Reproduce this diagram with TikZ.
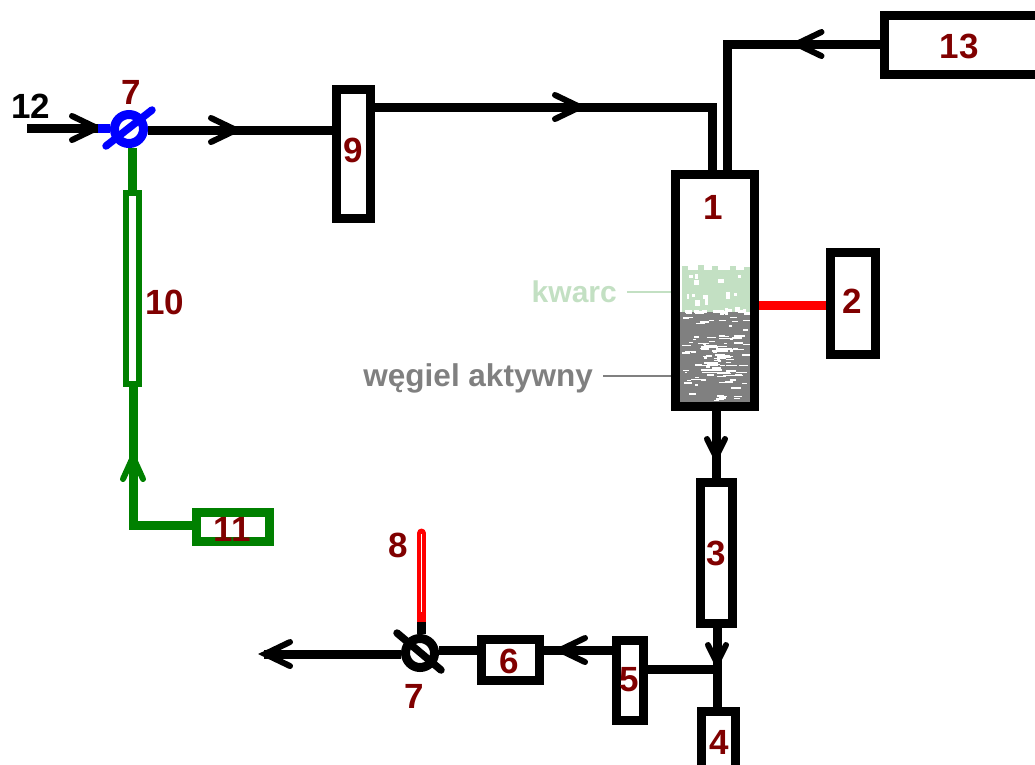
\documentclass[tikz,border=0pt]{standalone}
\usepackage{fontspec}
\setmainfont{Liberation Sans}
\usetikzlibrary{decorations.markings}
\definecolor{numred}{RGB}{128,0,0}
\definecolor{pgreen}{RGB}{0,128,0}
\definecolor{kwarcg}{RGB}{195,224,195}
\definecolor{coalg}{RGB}{128,128,128}
\tikzset{
  x=1pt,y=-1pt,
  box/.style={draw=black,line width=9pt,fill=none,inner sep=0pt},
  gbox/.style={box,draw=pgreen},
  pipe/.style={draw=black,line width=9pt,line join=miter},
  gpipe/.style={pipe,draw=pgreen},
  chev/.style={postaction={decorate},decoration={markings,mark=at position #1 with {\draw[line width=6pt,draw=black,line cap=round,line join=miter] (-25,-12)--(0,0)--(-25,12);}}},
  vchev/.style={postaction={decorate},decoration={markings,mark=at position #1 with {\draw[line width=6pt,draw=black,line cap=round,line join=miter] (-18,-9)--(0,0)--(-18,9);}}},
  gchev/.style={postaction={decorate},decoration={markings,mark=at position #1 with {\draw[line width=6pt,draw=pgreen,line cap=round,line join=miter] (-22,-10)--(0,0)--(-22,10);}}},
  num/.style={font=\fontsize{35}{35}\selectfont\bfseries,text=numred,inner sep=0pt},
  blk/.style={num,text=black},
  side/.style={font=\fontsize{31.5}{31.5}\selectfont\bfseries,inner sep=0pt},
  leader/.style={line width=2pt,shorten <=10pt},
  valvering/.style={circle,line width=9pt,minimum size=29pt,inner sep=0pt,fill=none},
}
\begin{document}
\begin{tikzpicture}
\useasboundingbox (0,0) rectangle (1035,764);
% packing of column 1
\fill[kwarcg] (682,270) rectangle (750,316);
\fill[coalg] (680,312) rectangle (750,404);
\begin{scope}
\pgfmathsetseed{11}
% jagged top of the quartz layer
\foreach \x/\t in {682/266,690/272,698/265,706/271,712/266,722/274,730/266,738/272,744/267}{
  \fill[kwarcg] (\x,\t) rectangle ++(6,8);
}
\foreach \i in {1,...,14}{
  \pgfmathsetmacro\rx{684+62*rnd}\pgfmathsetmacro\ry{272+38*rnd}
  \pgfmathsetmacro\rw{1.5+5*rnd}\pgfmathsetmacro\rh{2+7*rnd}
  \fill[white] (\rx,\ry) rectangle ++(\rw,\rh);
}
\foreach \i in {1,...,18}{
  \pgfmathsetmacro\rx{684+62*rnd}
  \fill[white] (\rx,309+3*rnd) rectangle ++(3+4*rnd,3);
}
\foreach \i in {1,...,70}{
  \pgfmathsetmacro\rx{682+62*rnd}\pgfmathsetmacro\ry{316+86*rnd}
  \pgfmathsetmacro\rw{2+11*rnd}
  \fill[white] (\rx,\ry) rectangle ++(\rw,1.4);
}
\foreach \i in {1,...,40}{
  \pgfmathsetmacro\rx{700+30*rnd}\pgfmathsetmacro\ry{335+40*rnd}
  \pgfmathsetmacro\rw{3+14*rnd}
  \fill[white] (\rx,\ry) rectangle ++(\rw,1.4);
}
\end{scope}
% boxes
\node[box,minimum width=79pt,minimum height=232pt] (one) at (715,290.5) {};
\node[box,minimum width=45pt,minimum height=102pt] (two) at (853,303.5) {};
\node[box,minimum width=32pt,minimum height=141pt] (three) at (716.5,553) {};
\node[box,minimum width=34pt,minimum height=60pt] (four) at (718.5,741.5) {};
\node[box,minimum width=27pt,minimum height=80pt] (five) at (630,680.5) {};
\node[box,minimum width=58pt,minimum height=41pt] (six) at (510.5,660) {};
\node[box,minimum width=34pt,minimum height=129pt] (nine) at (353.5,154) {};
\node[box,minimum width=172pt,minimum height=59pt] (thirteen) at (970,45) {};
\node[gbox,minimum width=73pt,minimum height=29pt] (eleven) at (233,527) {};
\node[draw=pgreen,line width=6pt,inner sep=0pt,minimum width=13pt,minimum height=191pt] (ten) at (132,288) {};
% valves
\node[valvering,draw=blue] (vA) at (129,129) {};
\node[valvering,draw=black] (vB) at (420,653) {};
\coordinate (in) at (27,128);
\coordinate (out) at (264,654);
\coordinate (therm) at (421.5,533);
\coordinate (j) at (717,669);
% connectors
\draw[pipe,chev=70pt] (in) -- (98,128);
\draw[line width=9pt,blue] (98,128) -- (vA.west |- 0,128);
\draw[pipe,chev=88pt] (vA.east |- 0,130) -- (nine.west |- 0,130);
\draw[pipe,chev=205pt] (nine.east |- 0,107) -| (712,170);
\draw[pipe,chev=83pt] (thirteen.west |- 0,44) -| (727,170);
\draw[gpipe] (vA.south -| 132,0) -- (ten.north);
\draw[gpipe,gchev=127pt] (eleven.west |- 0,525) -| (133,386);
\draw[line width=9pt,red] (one.east |- 0,305) -- (two.west |- 0,305);
\draw[pipe,vchev=46pt] (one.south -| 716,0) -- (three.north -| 716,0);
\draw[pipe,vchev=35pt] (three.south -| 717,0) -- (four.north -| 717,0);
\draw[pipe] (five.east |- 0,669) -- (j);
\draw[pipe,chev=52pt] (five.west |- 0,650) -- (six.east |- 0,650);
\draw[pipe] (six.west |- 0,650) -- (vB.east |- 0,650);
\draw[pipe,chev=136pt] (vB.west |- out) -- (out);
\draw[red,line width=9pt,line cap=round] (therm) -- (421.5,622);
\draw[white,line width=1.5pt] (421.5,534) -- (421.5,612);
\draw[pipe] (421.5,622) -- (vB.north -| 421.5,0);
% valve slashes
\draw[blue,line width=7.5pt,line cap=round] (106,146) -- (152,110);
\draw[black,line width=7.5pt,line cap=round] (397,633) -- (441,670);
% labels
\node[num] (n1) at (713.5,207) {1};
\node[num] (n2) at (852,301) {2};
\node[num] at (716,553) {3};
\node[num] at (719,742) {4};
\node[num] at (629,680) {5};
\node[num] at (509,661) {6};
\node[num] at (131,92) {7};
\node[num] at (414,696) {7};
\node[num] at (398,545) {8};
\node[num] at (353,150) {9};
\node[num] at (165,302) {10};
\node[num] at (232,529) {11};
\node[blk] at (31,106) {12};
\node[num] at (959,46) {13};
\node[side,font=\fontsize{30}{30}\selectfont\bfseries,text=kwarcg,anchor=east] (kw) at (617,292) {kwarc};
\node[side,text=coalg,anchor=east] (wa) at (593,378) {węgiel aktywny};
\draw[leader,draw=kwarcg] (kw.east |- 0,292) -- (one.west |- 0,292);
\draw[leader,draw=coalg] (wa.east |- 0,376) -- (one.west |- 0,376);
\end{tikzpicture}
\end{document}
